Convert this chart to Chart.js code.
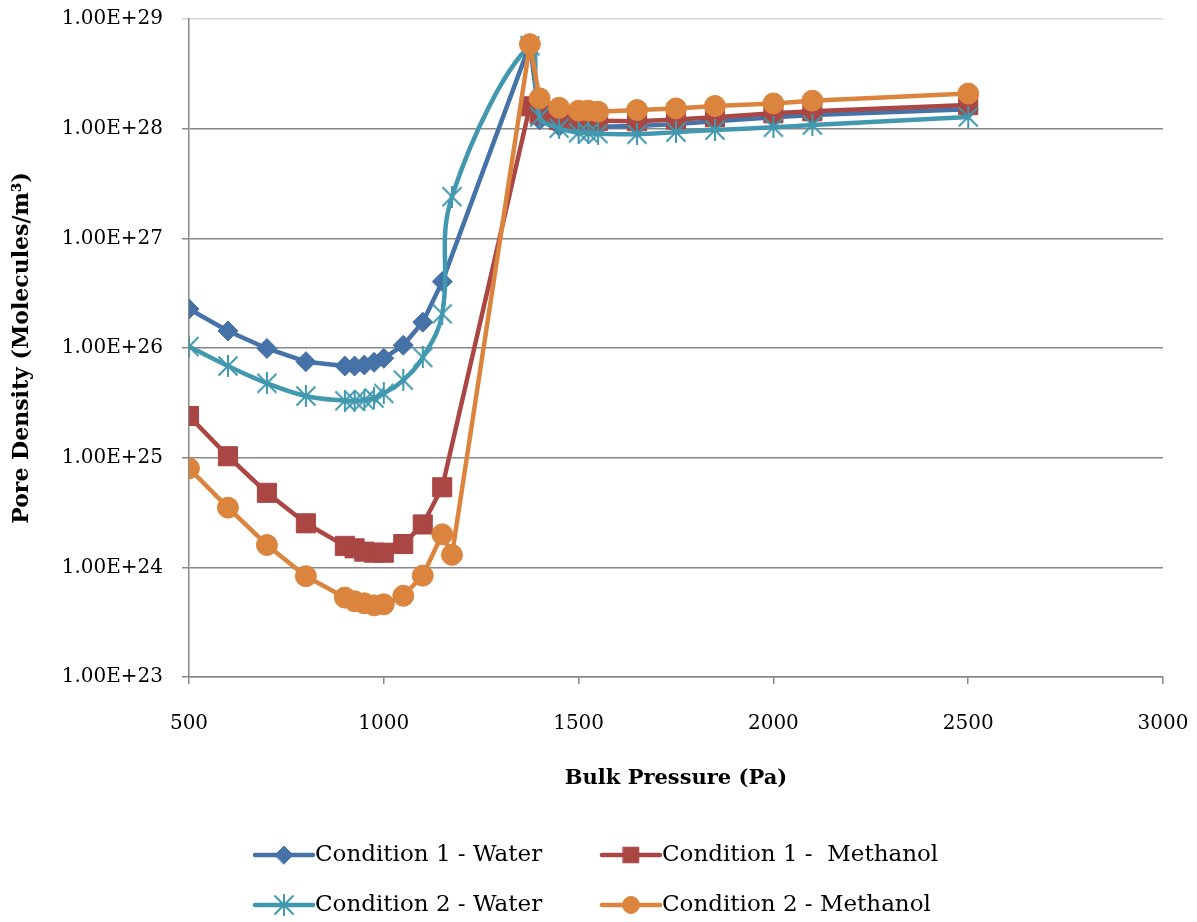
<!DOCTYPE html>
<html>
<head>
<meta charset="utf-8">
<script src="https://cdn.jsdelivr.net/npm/chart.js@4.4.1/dist/chart.umd.min.js"></script>
<style>
  html, body { margin: 0; padding: 0; background: #ffffff; }
  #c { display: block; }
</style>
</head>
<body>
<canvas id="c" width="1197" height="922"></canvas>
<script>
// ---------- DATA ----------
const seriesNames = ["Condition 1 - Water", "Condition 1 -  Methanol", "Condition 2 - Water", "Condition 2 - Methanol"];

const xCond1 = [500, 600, 700, 800, 900, 925, 950, 975, 1000, 1050, 1100, 1150, 1375, 1400, 1450, 1500, 1525, 1550, 1650, 1750, 1850, 2000, 2100, 2500];
const xCond2 = [500, 600, 700, 800, 900, 925, 950, 975, 1000, 1050, 1100, 1150, 1175, 1375, 1400, 1450, 1500, 1525, 1550, 1650, 1750, 1850, 2000, 2100, 2500];

const cond1Water = [2.27e26, 1.43e26, 9.9e25, 7.5e25, 6.85e25, 6.85e25, 7.0e25, 7.4e25, 8.05e25, 1.06e26, 1.72e26, 4.03e26,
                    5.9e28, 1.2e28, 1.05e28, 1.04e28, 1.04e28, 1.04e28, 1.06e28, 1.1e28, 1.17e28, 1.27e28, 1.33e28, 1.5e28];
const cond1Methanol = [2.4e25, 1.03e25, 4.78e24, 2.52e24, 1.57e24, 1.49e24, 1.39e24, 1.36e24, 1.36e24, 1.63e24, 2.46e24, 5.37e24,
                       1.6e28, 1.35e28, 1.2e28, 1.18e28, 1.18e28, 1.18e28, 1.17e28, 1.21e28, 1.27e28, 1.38e28, 1.44e28, 1.64e28];
const cond2Water = [1.03e26, 6.85e25, 4.77e25, 3.65e25, 3.3e25, 3.3e25, 3.35e25, 3.5e25, 3.85e25, 5.1e25, 8.2e25, 2.05e26, 2.4e27,
                    5.7e28, 1.28e28, 1.01e28, 9.2e27, 9.1e27, 9.0e27, 8.9e27, 9.3e27, 9.7e27, 1.03e28, 1.08e28, 1.28e28];
const cond2Methanol = [8.0e24, 3.5e24, 1.6e24, 8.3e23, 5.3e23, 4.9e23, 4.7e23, 4.5e23, 4.6e23, 5.5e23, 8.4e23, 2.0e24, 1.3e24,
                       5.9e28, 1.89e28, 1.55e28, 1.46e28, 1.46e28, 1.43e28, 1.48e28, 1.53e28, 1.61e28, 1.70e28, 1.80e28, 2.09e28];

const yTickValues = [1e23, 1e24, 1e25, 1e26, 1e27, 1e28, 1e29];
const yTickLabels = ["1.00E+23", "1.00E+24", "1.00E+25", "1.00E+26", "1.00E+27", "1.00E+28", "1.00E+29"];
const xTickValues = [500, 1000, 1500, 2000, 2500, 3000];
const xTickLabels = ["500", "1000", "1500", "2000", "2500", "3000"];

const xTitle = "Bulk Pressure (Pa)";
const yTitle = "Pore Density (Molecules/m\u00B3)";

// ---------- STYLE ----------
const FONT = "'DejaVu Serif', 'Liberation Serif', serif";
const colors = ["#4572A7", "#AA4643", "#4198AF", "#DB843D"];
const GRID = "#888888";

function starImage(color, size) {
  const c = document.createElement('canvas');
  c.width = size; c.height = size;
  const g = c.getContext('2d');
  g.strokeStyle = color; g.lineWidth = 2; g.lineCap = 'butt';
  const m = 1.5, s = size - 1.5;
  g.beginPath();
  g.moveTo(m, m); g.lineTo(s, s);
  g.moveTo(s, m); g.lineTo(m, s);
  g.moveTo(size / 2, 0); g.lineTo(size / 2, size);
  g.stroke();
  return c;
}
const starImg = starImage(colors[2], 22);

function pts(xs, ys) { return xs.map((x, i) => ({ x: x, y: ys[i] })); }

const common = { borderWidth: 4.5, pointBorderWidth: 1, borderJoinStyle: 'round', borderCapStyle: 'round' };
const datasets = [
  Object.assign({ label: seriesNames[0], data: pts(xCond1, cond1Water), borderColor: colors[0], backgroundColor: colors[0],
    pointStyle: 'rectRot', pointRadius: 10, tension: 0, order: 4 }, common),
  Object.assign({ label: seriesNames[1], data: pts(xCond1, cond1Methanol), borderColor: colors[1], backgroundColor: colors[1],
    pointStyle: 'rect', pointRadius: 13.5, tension: 0, order: 3 }, common),
  Object.assign({ label: seriesNames[2], data: pts(xCond2, cond2Water), borderColor: colors[2], backgroundColor: colors[2],
    pointStyle: starImg, pointRadius: 11, tension: 0.4, order: 2 }, common),
  Object.assign({ label: seriesNames[3], data: pts(xCond2, cond2Methanol), borderColor: colors[3], backgroundColor: colors[3],
    pointStyle: 'circle', pointRadius: 10.5, tension: 0, order: 1 }, common)
];

// custom two-column legend, drawn on the canvas below the x axis
const legendPlugin = {
  id: 'twoColLegend',
  afterDraw(chart, args, opts) {
    const ctx = chart.ctx;
    ctx.save();
    ctx.font = opts.fontSize + "px " + FONT;
    ctx.textBaseline = 'middle';
    ctx.textAlign = 'left';
    chart.data.datasets.forEach((ds, i) => {
      const col = i % 2, row = Math.floor(i / 2);
      const x0 = opts.colX[col];
      const y = opts.rowY[row];
      ctx.strokeStyle = ds.borderColor;
      ctx.lineWidth = 4.5;
      ctx.lineCap = 'round';
      ctx.beginPath();
      ctx.moveTo(x0, y);
      ctx.lineTo(x0 + opts.lineLen, y);
      ctx.stroke();
      ctx.fillStyle = ds.backgroundColor;
      ctx.strokeStyle = ds.borderColor;
      ctx.lineWidth = 1;
      Chart.helpers.drawPoint(ctx, {
        pointStyle: ds.pointStyle,
        radius: ds.pointStyle === 'rect' ? 11 : (ds.pointStyle === 'circle' ? 8.5 : 9),
        borderWidth: 1, rotation: 0
      }, x0 + opts.lineLen / 2, y);
      ctx.fillStyle = '#000000';
      ctx.fillText(ds.label, x0 + opts.lineLen + 2, y);
    });
    ctx.restore();
  }
};

new Chart(document.getElementById('c'), {
  type: 'line',
  data: { datasets: datasets },
  plugins: [legendPlugin],
  options: {
    responsive: false,
    animation: false,
    layout: { padding: { left: 0, top: 19, right: 34, bottom: 92 } },
    plugins: {
      legend: { display: false },
      tooltip: { enabled: false },
      twoColLegend: { colX: [255, 602], rowY: [855, 905], lineLen: 58, fontSize: 23 }
    },
    scales: {
      x: {
        type: 'linear',
        min: 500, max: 3000,
        afterBuildTicks(s) { s.ticks = xTickValues.map(v => ({ value: v })); },
        afterFit(s) { s.height = 153; s.paddingLeft = 0; s.paddingRight = 0; },
        grid: { drawOnChartArea: false, drawTicks: true, tickLength: 7, color: GRID, lineWidth: 1.5 },
        border: { color: GRID, width: 1.5 },
        ticks: {
          color: '#000', font: { family: FONT, size: 20 }, padding: 28, maxRotation: 0,
          callback(v) { const i = xTickValues.indexOf(v); return i >= 0 ? xTickLabels[i] : ''; }
        },
        title: { display: true, text: xTitle, color: '#000',
                 font: { family: FONT, size: 21, weight: 'bold' }, padding: { top: 0, bottom: 39 } }
      },
      y: {
        type: 'logarithmic',
        min: 1e23, max: 1e29,
        afterBuildTicks(s) { s.ticks = yTickValues.map(v => ({ value: v })); },
        afterFit(s) { s.width = 189; s.paddingTop = 0; s.paddingBottom = 0; },
        grid: { color: (c) => (c.tick && c.tick.value === 1e29 ? '#d4d4d4' : GRID), lineWidth: 1.5, tickLength: 7 },
        border: { color: GRID, width: 1.5 },
        ticks: {
          color: '#000', font: { family: FONT, size: 20 }, padding: 19,
          callback(v) { const i = yTickValues.indexOf(v); return i >= 0 ? yTickLabels[i] : ''; }
        },
        title: { display: true, text: yTitle, color: '#000',
                 font: { family: FONT, size: 22, weight: 'bold' }, padding: { top: 9, bottom: 0 } }
      }
    }
  }
});
</script>
</body>
</html>
